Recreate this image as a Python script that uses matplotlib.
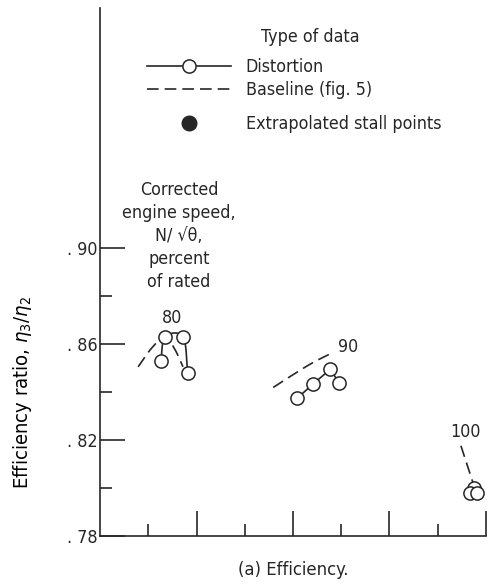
import matplotlib
matplotlib.use("Agg")
import matplotlib.pyplot as plt
import numpy as np
from matplotlib.lines import Line2D

# ---- data -------------------------------------------------------------
speeds = ["80", "90", "100"]

# distortion data (open symbols, joined in test order)
dist_80_x = [1.26, 1.35, 1.72, 1.82]
dist_80_y = [0.8529, 0.8630, 0.8630, 0.8480]
dist_90_x = [4.08, 4.42, 4.77, 4.96]
dist_90_y = [0.8373, 0.8434, 0.8494, 0.8438]
dist_100_x = [7.75, 7.67, 7.81]
dist_100_y = [0.8001, 0.7980, 0.7980]

# baseline curves (fig. 5)
base_80_x = [0.79, 1.08, 1.35, 1.55, 1.72]
base_80_y = [0.8505, 0.8585, 0.8630, 0.8578, 0.8505]
base_90_x = [3.59, 4.00, 4.40, 4.83]
base_90_y = [0.8419, 0.8472, 0.8521, 0.8565]
base_100_x = [7.48, 7.73]
base_100_y = [0.8176, 0.8022]

ytick_vals = [0.78, 0.82, 0.86, 0.90]
ytick_labels = [". 78", ". 82", ". 86", ". 90"]
yminor_vals = [0.80, 0.84, 0.88]
xmajor_vals = [2, 4, 6, 8]
xminor_vals = [1, 3, 5, 7]

# ---- style ------------------------------------------------------------
FAM = ["DejaVu Sans", "Liberation Sans"]
INK = "#262626"
plt.rcParams["font.family"] = FAM
plt.rcParams["font.stretch"] = "condensed"
plt.rcParams["mathtext.fontset"] = "dejavusans"
plt.rcParams["text.color"] = INK

FS = 12.8
LW = 1.2
DASH = (0, (7, 3.6))


def smooth(xs, ys, n=30):
    """Catmull-Rom curve through the given points."""
    p = np.column_stack([xs, ys]).astype(float)
    if len(p) < 3:
        return p[:, 0], p[:, 1]
    ext = np.vstack([2 * p[0] - p[1], p, 2 * p[-1] - p[-2]])
    out = []
    for i in range(1, len(ext) - 2):
        p0, p1, p2, p3 = ext[i - 1], ext[i], ext[i + 1], ext[i + 2]
        t = np.linspace(0, 1, n)[:, None]
        seg = 0.5 * ((2 * p1) + (-p0 + p2) * t + (2 * p0 - 5 * p1 + 4 * p2 - p3) * t ** 2
                     + (-p0 + 3 * p1 - 3 * p2 + p3) * t ** 3)
        out.append(seg)
    c = np.vstack(out)
    return c[:, 0], c[:, 1]


fig = plt.figure(figsize=(4.96, 5.84), dpi=100)
ax = fig.add_axes([100 / 496, 1 - 536 / 584, 386 / 496, 528 / 584])
ax.set_xlim(0, 8)
ax.set_ylim(0.78, 1.0)

line_kw = dict(color=INK, lw=LW)
mk_kw = dict(marker="o", ms=9.5, mfc="white", mec=INK, mew=1.1, ls="none", zorder=4)

# baselines
for bx, by in [(base_80_x, base_80_y), (base_90_x, base_90_y), (base_100_x, base_100_y)]:
    sx, sy = smooth(bx, by)
    ax.plot(sx, sy, ls=DASH, zorder=2, **line_kw)

# distortion curves
sx, sy = smooth(dist_80_x, dist_80_y)
ax.plot(sx, sy, zorder=3, **line_kw)
ax.plot(dist_80_x, dist_80_y, **mk_kw)
ax.plot(dist_90_x, dist_90_y, zorder=3, **line_kw)
ax.plot(dist_90_x, dist_90_y, **mk_kw)
ax.plot(dist_100_x, dist_100_y, **mk_kw)

# speed labels
ax.text(1.49, 0.8708, speeds[0], fontsize=FS, ha="center", va="center")
ax.text(5.15, 0.8588, speeds[1], fontsize=FS, ha="center", va="center")
ax.text(7.57, 0.8232, speeds[2], fontsize=FS, ha="center", va="center")

ax.text(1.64, 0.9050,
        "Corrected\nengine speed,\nN/ \u221a\u03b8,\npercent\nof rated",
        fontsize=FS, ha="center", va="center", linespacing=1.35)

# axes styling
for s in ("top", "right"):
    ax.spines[s].set_visible(False)
for s in ("left", "bottom"):
    ax.spines[s].set_color(INK)
    ax.spines[s].set_linewidth(LW)

ax.set_yticks(ytick_vals)
ax.set_yticklabels(ytick_labels)
ax.set_yticks(yminor_vals, minor=True)
ax.set_xticks(xmajor_vals)
ax.set_xticklabels([])
ax.set_xticks(xminor_vals, minor=True)
ax.tick_params(axis="both", which="major", direction="in", length=18, width=LW,
               color=INK, labelsize=FS, pad=2, labelcolor=INK)
ax.tick_params(axis="both", which="minor", direction="in", length=8.6, width=LW,
               color=INK)

ax.set_ylabel(r"Efficiency ratio, $\eta_3/\eta_2$", fontsize=14.5)
ax.yaxis.set_label_coords(-66 / 386, (536 - 393) / 528)

fig.text(293 / 496, 1 - 570 / 584, "(a) Efficiency.", fontsize=13.2,
         ha="center", va="center")

# legend
fig.text(310 / 496, 1 - 37 / 584, "Type of data", fontsize=FS, ha="center", va="center")
h_dist = Line2D([], [], color=INK, lw=LW, marker="o", ms=9.5, mfc="white", mec=INK, mew=1.1)
h_base = Line2D([], [], color=INK, lw=LW, ls=DASH)
h_stall = Line2D([], [], ls="none", marker="o", ms=10.5, mfc=INK, mec=INK)
leg1 = ax.legend([h_dist, h_base], ["Distortion", "Baseline (fig. 5)"],
                 loc="upper left", bbox_to_anchor=(147 / 496, 1 - 58 / 584),
                 bbox_transform=fig.transFigure, frameon=False, fontsize=FS,
                 handlelength=4.7, handletextpad=0.85, labelspacing=0.28,
                 borderpad=0, borderaxespad=0, numpoints=1)
ax.add_artist(leg1)
ax.legend([h_stall], ["Extrapolated stall points"],
          loc="upper left", bbox_to_anchor=(147 / 496, 1 - 115 / 584),
          bbox_transform=fig.transFigure, frameon=False, fontsize=FS,
          handlelength=4.7, handletextpad=0.85, borderpad=0, borderaxespad=0,
          numpoints=1)

fig.savefig("out.png", dpi=100)
